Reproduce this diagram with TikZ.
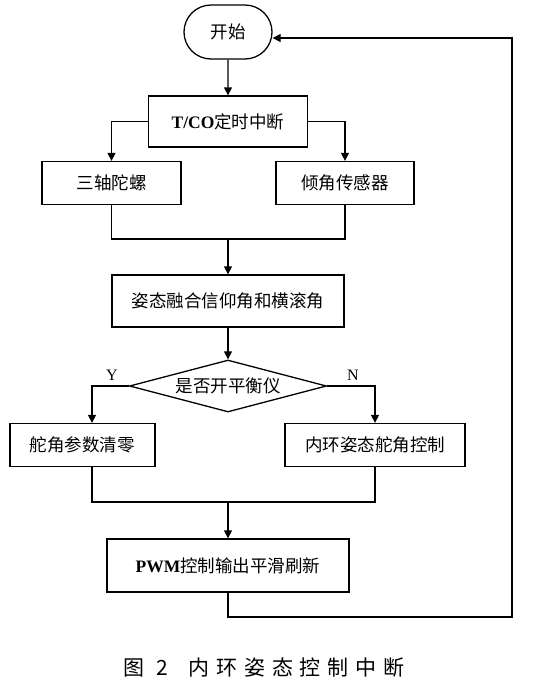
\documentclass[tikz,border=0pt]{standalone}
\usepackage{fontspec}
\setmainfont{Liberation Serif}
\newfontfamily\cjk{Noto Sans CJK SC}
\newfontfamily\capcjk[LetterSpace=32]{Noto Sans CJK SC}
\usetikzlibrary{arrows.meta, shapes.geometric, shapes.misc}

\begin{document}
\begin{tikzpicture}[
  x=1pt, y=-1pt, line width=1.3pt,
  font=\cjk\fontsize{17.5}{20}\selectfont,
  box/.style={draw, rectangle, inner sep=0pt, minimum height=43pt, align=center},
  term/.style={draw, rounded rectangle, inner sep=0pt, minimum width=88pt, minimum height=54pt},
  decide/.style={draw, diamond, aspect=3.8, inner sep=0pt, minimum width=197pt, minimum height=52pt},
  arr/.style={-{Triangle[length=8pt, width=8pt]}},
  yn/.style={font=\rmfamily\fontsize{16}{18}\selectfont}
]
\useasboundingbox[fill=white] (0,0) rectangle (559,686);

% main column
\node[term] (start) at (228,32) {开始};
\node[box, minimum width=159pt, minimum height=51pt] (tc) at (228,121.5) {{\rmfamily\bfseries T/CO}定时中断};
\node[box, minimum width=139pt] (gyro) at (111.5,183) {三轴陀螺};
\node[box, minimum width=138pt] (sens) at (345,183) {倾角传感器};
\node[box, minimum width=232pt, minimum height=52pt] (fuse) at (228,301) {姿态融合信仰角和横滚角};
\node[decide] (bal) at (228,386) {是否开平衡仪};
\node[box, minimum width=145pt] (zero) at (82.5,445) {舵角参数清零};
\node[box, minimum width=180pt] (ctrl) at (375,445) {内环姿态舵角控制};
\node[box, minimum width=242pt, minimum height=53pt] (pwm) at (228,565.5) {{\rmfamily\bfseries PWM}控制输出平滑刷新};

% branch labels
\node[yn] (ylab) at (112,375) {Y};
\node[yn] (nlab) at (353,375) {N};

% caption
\node[font=\capcjk\fontsize{21}{24}\selectfont] (cap) at (264,668) {图 2\quad 内环姿态控制中断};

% joints
\coordinate (j1) at (228,239);
\coordinate (j2) at (228,502);
\coordinate (lp) at (512,617);

% arrows
\draw[arr] (start) -- (tc);
\draw[arr] (tc.west) -| (gyro.north);
\draw[arr] (tc.east) -| (sens.north);
\draw (gyro.south) |- (j1) -| (sens.south);
\draw[arr] (j1) -- (fuse.north);
\draw[arr] (fuse) -- (bal);
\draw[arr] (bal.west) -| ([xshift=9.5pt]zero.north);
\draw[arr] (bal.east) -| (ctrl.north);
\draw ([xshift=9.5pt]zero.south) |- (j2) -| (ctrl.south);
\draw[arr] (j2) -- (pwm.north);
\draw[arr] (pwm.south) |- (lp) |- ([yshift=-6pt]start.east);
\end{tikzpicture}
\end{document}
